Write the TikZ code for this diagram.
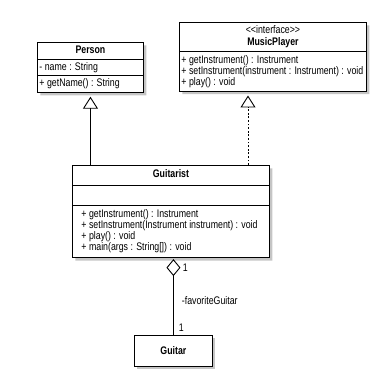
\documentclass[tikz,border=0pt]{standalone}
\usepackage{fontspec}
\setmainfont{Liberation Sans}[FakeStretch=0.8]
\usetikzlibrary{shapes.multipart,shadows,arrows.meta}

\tikzset{
  umlshadow/.style={drop shadow={shadow xshift=3pt, shadow yshift=-3pt, fill=black!45, opacity=0.5}},
  umlclass/.style={rectangle split, draw, fill=white, line width=0.9pt, umlshadow,
    font=\fontsize{11}{11}\selectfont, align=left, inner xsep=2pt, inner ysep=3pt,
    rectangle split part align={center,left,left}, anchor=north west},
  umlbox/.style={rectangle, draw, fill=white, line width=0.9pt, umlshadow,
    font=\fontsize{11}{11}\selectfont, anchor=north west},
  inherit/.style={-{Triangle[open,length=12pt,width=15pt,line width=0.9pt]}, line width=0.9pt, shorten >=4pt},
  realize/.style={inherit, dash pattern=on 1.8pt off 1.8pt, line width=1pt},
  aggregate/.style={{Diamond[open,length=17pt,width=14pt,line width=0.9pt]}-, line width=0.9pt, shorten <=1pt},
  lbl/.style={font=\fontsize{11}{11}\selectfont, inner sep=0pt}
}

\begin{document}
\begin{tikzpicture}[x=1pt,y=-1pt]
  \useasboundingbox (0,0) rectangle (382,390);

  \node[umlclass, rectangle split parts=3, minimum width=106pt, inner ysep=2.6pt] (Person) at (37,42)
    {\strut\textbf{Person}\nodepart{two}- name : String\nodepart{three}+ getName() : String};
  \node[umlclass, rectangle split parts=2, minimum width=187pt] (MusicPlayer) at (179,22)
    {\begin{tabular}{@{}c@{}}\strut<{}<interface>{}>\\\textbf{MusicPlayer}\end{tabular}
     \nodepart{two}+ getInstrument() : Instrument\\
     + setInstrument(instrument : Instrument) : void\\
     + play() : void};
  \node[umlclass, rectangle split parts=3, minimum width=197pt, inner xsep=9pt, inner ysep=4pt] (Guitarist) at (72,165)
    {\strut\textbf{Guitarist}\nodepart{two}\strut
     \nodepart{three}+ getInstrument() : Instrument\\
     + setInstrument(Instrument instrument) : void\\
     + play() : void\\
     + main(args : String[]) : void};
  \node[umlbox, minimum width=78pt, minimum height=31pt] (Guitar) at (134,335)
    {\textbf{Guitar}};

  \draw[inherit] (Person.south |- Guitarist.north) -- (Person.south);
  \draw[realize] (Guitarist.north -| 248,0) -- (MusicPlayer.south -| 248,0);
  \draw[aggregate] (Guitar.north |- Guitarist.south) --
    node[lbl, pos=0.13, anchor=west, xshift=9pt] {1}
    node[lbl, pos=0.55, anchor=west, xshift=8pt] {-favoriteGuitar}
    node[lbl, pos=0.91, anchor=west, xshift=5pt] {1}
    (Guitar.north);
\end{tikzpicture}
\end{document}
